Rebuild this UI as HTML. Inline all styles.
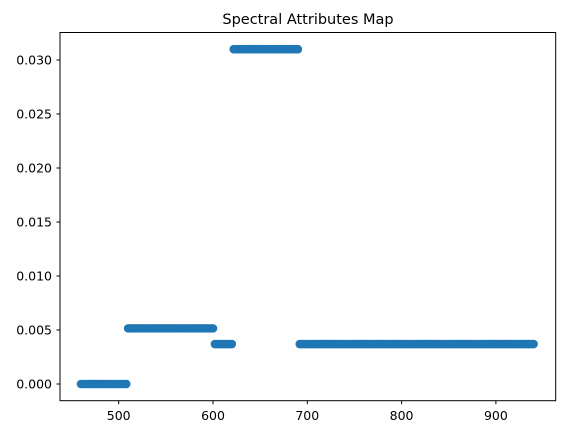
<!DOCTYPE html>
<html><head><meta charset="utf-8"><style>
body{margin:0;background:#fff;}
svg{display:block;font-family:"DejaVu Sans","Liberation Sans",sans-serif;}
</style></head><body>
<svg id="chart" width="565" height="435">
<text x="308" y="24" font-size="14.5" text-anchor="middle">Spectral Attributes Map</text>
<g id="marks"></g>
<rect x="60" y="32.5" width="495.7" height="368.2" fill="none" stroke="#000" stroke-width="1"/>
<g id="axes"></g>
</svg>
<script>
const segStart=[460,510,602,622,692];
const segEnd=[508,600,620,690,940];
const segValue=[0,0.00515,0.0037,0.031,0.0037];
const xTicks=[500,600,700,800,900];
const yTicks=[0,0.005,0.010,0.015,0.020,0.025,0.030];
const yTickLabels=["0.000","0.005","0.010","0.015","0.020","0.025","0.030"];
const step=2;
const NS="http://www.w3.org/2000/svg";
function xs(v){return 118.7+(v-500)*0.943;}
function ys(v){return 384-v*10800;}
const marks=document.getElementById('marks');
for(let s=0;s<segStart.length;s++){
  for(let x=segStart[s];x<=segEnd[s];x+=step){
    const c=document.createElementNS(NS,'circle');
    c.setAttribute('cx',xs(x));c.setAttribute('cy',ys(segValue[s]));c.setAttribute('r',4.3);
    c.setAttribute('fill','#1f77b4');
    
    
    marks.appendChild(c);
  }
}
const axes=document.getElementById('axes');
xTicks.forEach(t=>{
  const l=document.createElementNS(NS,'line');
  l.setAttribute('x1',xs(t));l.setAttribute('x2',xs(t));l.setAttribute('y1',400.7);l.setAttribute('y2',404.2);l.setAttribute('stroke','#000');
  
  
  axes.appendChild(l);
  const tx=document.createElementNS(NS,'text');
  tx.setAttribute('x',xs(t));tx.setAttribute('y',420);tx.setAttribute('font-size','12.5');tx.setAttribute('text-anchor','middle');
  tx.textContent=t;
  
  
  axes.appendChild(tx);
});
yTicks.forEach((t,i)=>{
  const l=document.createElementNS(NS,'line');
  l.setAttribute('x1',56.5);l.setAttribute('x2',60);l.setAttribute('y1',ys(t));l.setAttribute('y2',ys(t));l.setAttribute('stroke','#000');
  
  
  axes.appendChild(l);
  const tx=document.createElementNS(NS,'text');
  tx.setAttribute('x',52);tx.setAttribute('y',ys(t)+4.5);tx.setAttribute('font-size','12.5');tx.setAttribute('text-anchor','end');
  tx.textContent=yTickLabels[i];
  
  
  axes.appendChild(tx);
});
</script>
</body></html>
